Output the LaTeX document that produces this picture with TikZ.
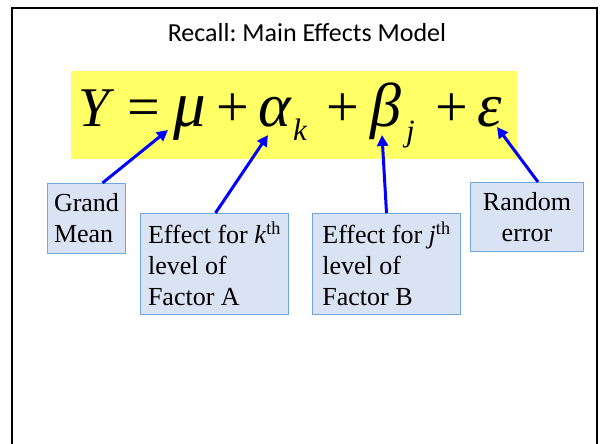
\documentclass[tikz,border=0pt]{standalone}
\usepackage{fontspec}
\setmainfont{Liberation Serif}
\newfontfamily\titlefont{Carlito}
\usetikzlibrary{arrows.meta}
\definecolor{hiyellow}{HTML}{FFFF66}
\definecolor{boxfill}{HTML}{DAE3F3}
\definecolor{boxline}{HTML}{6FA8DC}
\definecolor{arrblue}{RGB}{0,0,255}
\tikzset{
  eqsym/.style={anchor=base west, inner sep=0pt, font=\fontsize{56}{56}\selectfont\itshape},
  eqgreek/.style={anchor=base west, inner sep=0pt, font=\fontsize{62}{62}\selectfont\itshape},
  eqop/.style={anchor=base west, inner sep=0pt, font=\fontsize{58}{58}\selectfont},
  eqsub/.style={anchor=base west, inner sep=0pt, font=\fontsize{31}{31}\selectfont\itshape},
  infobox/.style={draw=boxline, line width=1pt, fill=boxfill, anchor=north west,
    inner xsep=6pt, inner ysep=0pt, font=\fontsize{26}{31}\selectfont\frenchspacing},
  bluearrow/.style={draw=arrblue, line width=3pt, -{Triangle[width=11pt,length=11pt]}}
}
\begin{document}
\begin{tikzpicture}[x=1pt,y=-1pt]
\useasboundingbox (0,0) rectangle (602,444);
\draw[line width=2pt] (12,444) -- (12,8) -- (597,8) -- (597,444);
\node[anchor=base, inner sep=0pt] (title) at (307,42) {\titlefont\fontsize{26}{30}\selectfont\frenchspacing Recall: Main Effects Model};
\node[fill=hiyellow, minimum width=446pt, minimum height=88pt, inner sep=0pt, anchor=north west] (eqbg) at (71,71) {};
\node[eqsym] (Y) at (78,126) {Y};
\node[eqop] (eq) at (127,126) {=};
\node[eqgreek, font=\fontsize{65}{65}\selectfont\itshape] (mu) at (173,126) {μ};
\node[eqop] (p1) at (216,126) {+};
\node[eqgreek] (alpha) at (258,126) {α};
\node[eqsub] (k) at (293,140) {k};
\node[eqop] (p2) at (326,126) {+};
\node[eqgreek] (beta) at (370,126) {β};
\node[eqsub] (j) at (406,141) {j};
\node[eqop] (p3) at (435,126) {+};
\node[eqgreek] (eps) at (477,126) {ε};
\coordinate (tipmu) at (168,130);
\coordinate (tipalpha) at (268,135);
\coordinate (tipbeta) at (382,135);
\coordinate (tipeps) at (497,127);
\node[infobox, minimum width=78pt, minimum height=70pt, align=left] (gm) at (47,183) {Grand\\Mean};
\node[infobox, minimum width=148pt, minimum height=101pt, align=left] (effa) at (140,213) {Effect for \textit{k}\textsuperscript{th}\\level of\\Factor A};
\node[infobox, minimum width=148pt, minimum height=101pt, align=left] (effb) at (312,213) {Effect for \textit{j}\textsuperscript{th}\\level of\\Factor B};
\node[infobox, minimum width=113pt, minimum height=69pt, align=center] (re) at (470,182) {Random\\error};
\draw[bluearrow] ([xshift=16pt]gm.north) -- (tipmu);
\draw[bluearrow] ([xshift=1pt]effa.north) -- (tipalpha);
\draw[bluearrow] (effb.north) -- (tipbeta);
\draw[bluearrow] ([xshift=11pt]re.north) -- (tipeps);
\end{tikzpicture}
\end{document}
